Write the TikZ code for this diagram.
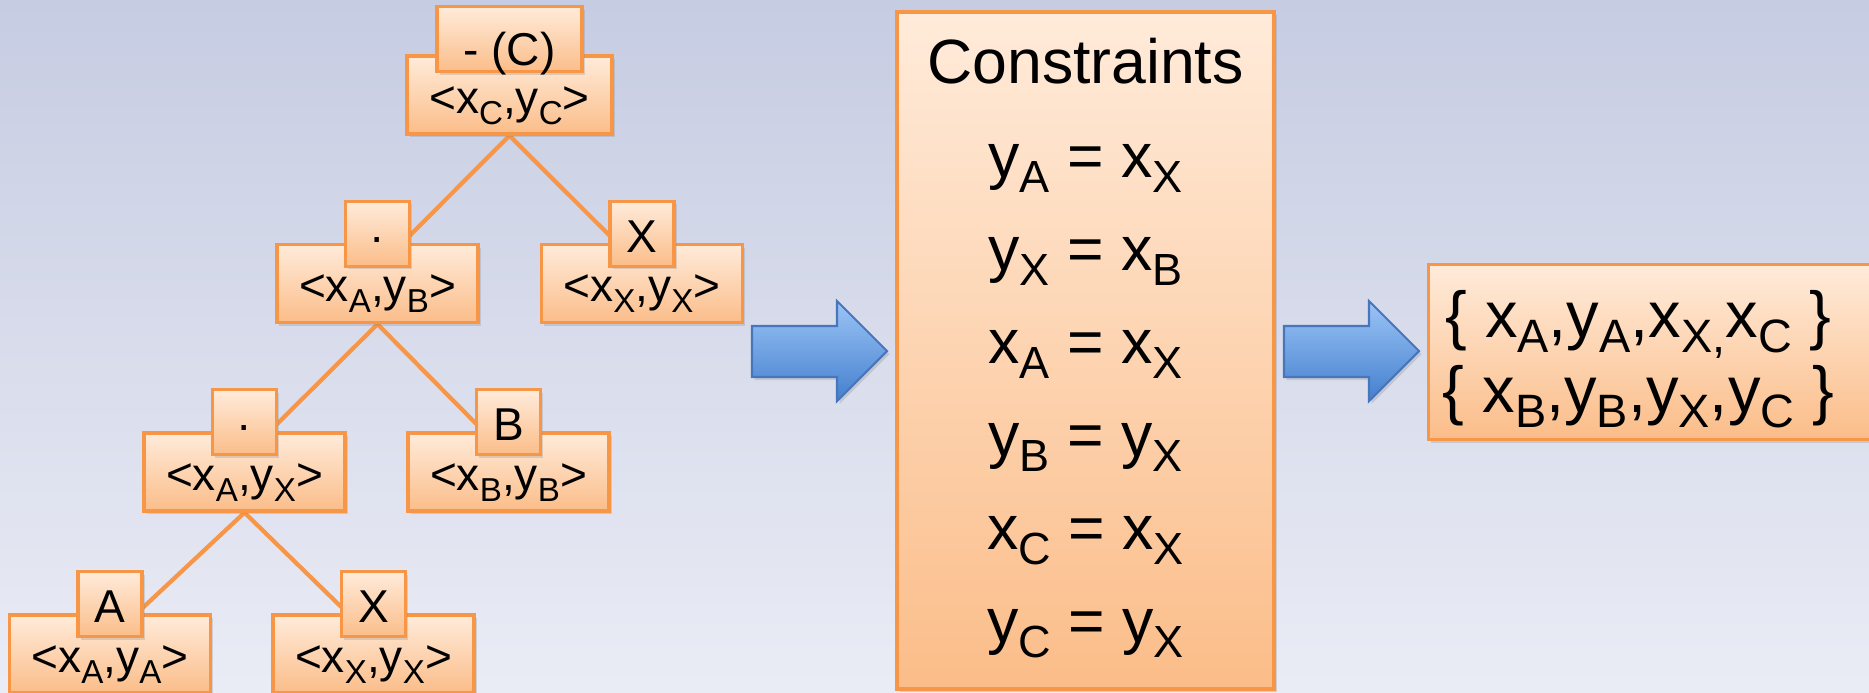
\documentclass[tikz,border=0pt]{standalone}
\usepackage{fontspec}
\setmainfont{Liberation Sans}
\usetikzlibrary{positioning, shadows}
\definecolor{bgtop}{RGB}{198,204,226}
\definecolor{bgbot}{RGB}{234,236,245}
\definecolor{peach}{RGB}{255,235,218}
\definecolor{apricot}{RGB}{251,189,137}
\definecolor{tangerine}{RGB}{247,150,70}
\definecolor{skytop}{RGB}{156,196,247}
\definecolor{skybot}{RGB}{68,128,206}
\definecolor{skyline}{RGB}{72,118,186}
\newcommand{\sbs}[1]{\raisebox{-0.24em}{\scalebox{0.72}{#1}}}
\pgfdeclarelayer{bg}
\pgfdeclarelayer{edges}
\pgfsetlayers{bg,edges,main}
\tikzset{
  box/.style={draw=tangerine, line width=0.9pt, top color=peach, bottom color=apricot,
    inner sep=0pt, drop shadow={shadow xshift=0.025cm, shadow yshift=-0.03cm, opacity=0.25}},
  val/.style={box, minimum width=2.01cm, minimum height=0.78cm, text height=0.40cm,
    text depth=0.04cm, font=\fontsize{13.1}{15}\selectfont},
  lbl/.style={box, minimum width=0.64cm, minimum height=0.65cm, text height=0.37cm,
    text depth=0cm, font=\fontsize{13.1}{15}\selectfont},
  eqn/.style={inner sep=0pt, font=\fontsize{17.8}{21}\selectfont},
  setline/.style={inner sep=0pt, font=\fontsize{18.5}{22}\selectfont},
  treeline/.style={tangerine, line width=1.2pt},
  blockarrow/.style={draw=skyline, line width=0.6pt, top color=skytop, bottom color=skybot,
    drop shadow={shadow xshift=0.025cm, shadow yshift=-0.03cm, opacity=0.25}}
}

\begin{document}
\begin{tikzpicture}
\useasboundingbox (0,0) rectangle (18.69,-6.92);
\begin{pgfonlayer}{bg}
  \fill[top color=bgtop, bottom color=bgbot] (0,0) rectangle (18.69,-6.92);
\end{pgfonlayer}

% ---- tree ----
\node[val, minimum width=2.05cm] (vC) at (5.095,-0.95) {<x\sbs{C},y\sbs{C}>};
\node[lbl, minimum width=1.45cm, text height=0.53cm, above=-0.19cm of vC] (lC) {- (C)};

\node[val] (vCat1) at (3.775,-2.835) {<x\sbs{A},y\sbs{B}>};
\node[lbl, above=-0.25cm of vCat1] (lCat1) {·};
\node[val] (vXr) at (6.42,-2.835) {<x\sbs{X},y\sbs{X}>};
\node[lbl, above=-0.25cm of vXr] (lXr) {X};

\node[val] (vCat2) at (2.445,-4.72) {<x\sbs{A},y\sbs{X}>};
\node[lbl, above=-0.25cm of vCat2] (lCat2) {·};
\node[val] (vB) at (5.085,-4.72) {<x\sbs{B},y\sbs{B}>};
\node[lbl, above=-0.25cm of vB] (lB) {B};

\node[val] (vA) at (1.10,-6.54) {<x\sbs{A},y\sbs{A}>};
\node[lbl, above=-0.25cm of vA] (lA) {A};
\node[val] (vXl) at (3.735,-6.54) {<x\sbs{X},y\sbs{X}>};
\node[lbl, above=-0.25cm of vXl] (lXl) {X};

\begin{pgfonlayer}{edges}
  \foreach \p/\c in {vC/lCat1, vC/lXr, vCat1/lCat2, vCat1/lB, vCat2/lA, vCat2/lXl}
    \draw[treeline] (\p.south) -- (\c.south);
\end{pgfonlayer}

% ---- block arrows ----
\foreach \ax in {7.52,12.84}{
  \begin{scope}[shift={(\ax,0)}]
    \draw[blockarrow] (0,-3.26) -- (0.85,-3.26) -- (0.85,-3.01) -- (1.35,-3.51)
      -- (0.85,-4.01) -- (0.85,-3.77) -- (0,-3.77) -- cycle;
  \end{scope}
}

% ---- constraints ----
\node[box, minimum width=3.77cm, minimum height=6.77cm] (cons) at (10.855,-3.505) {};
\node[eqn, anchor=base] (consT) at (10.855,-0.83) {Constraints};
\foreach \eq [count=\i] in {y\sbs{A} = x\sbs{X}, y\sbs{X} = x\sbs{B}, x\sbs{A} = x\sbs{X},
    y\sbs{B} = y\sbs{X}, x\sbs{C} = x\sbs{X}, y\sbs{C} = y\sbs{X}}
  \node[eqn, anchor=base] (eq\i) at (10.855,{-1.77-0.93*(\i-1)}) {\eq};

% ---- result sets ----
\node[box, minimum width=5cm, minimum height=1.75cm, anchor=north west] (res) at (14.27,-2.63) {};
\node[setline, anchor=base] (set1) at (16.385,-3.37) {\{ x\sbs{A},y\sbs{A},x\sbs{X,}x\sbs{C} \}};
\node[setline, anchor=base] (set2) at (16.385,-4.12) {\{ x\sbs{B},y\sbs{B},y\sbs{X},y\sbs{C} \}};
\end{tikzpicture}
\end{document}
